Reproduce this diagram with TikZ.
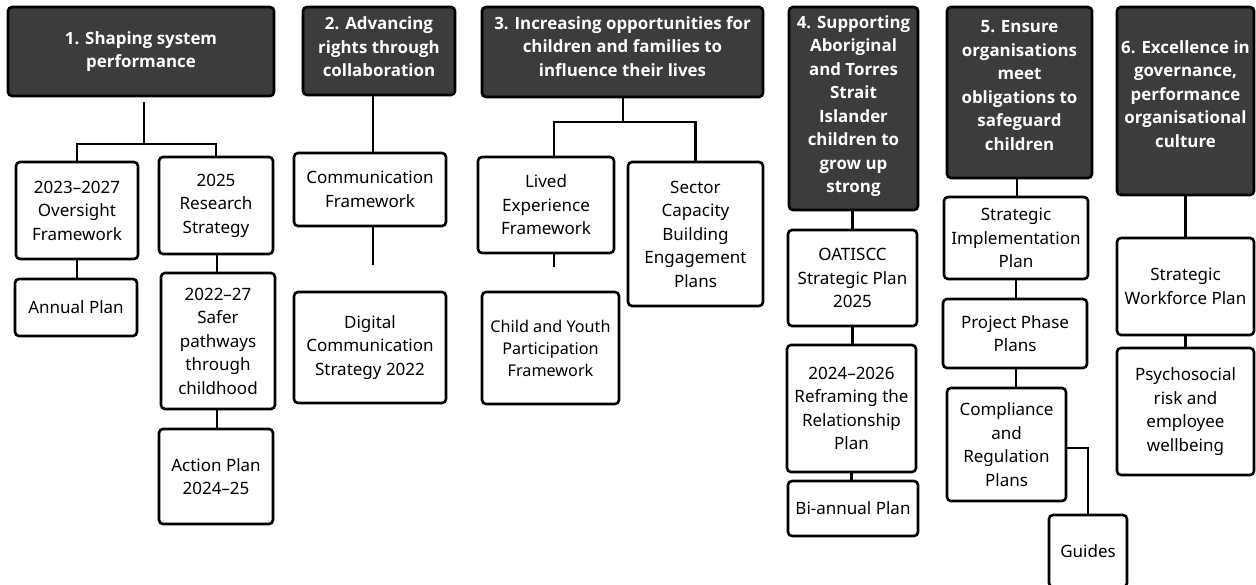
\documentclass[tikz,border=0pt]{standalone}
\usepackage{fontspec}
\setmainfont{Noto Sans}
\IfFontExistsTF{Open Sans Bold}
  {\newfontfamily\hdfont{Open Sans Bold}}
  {\newfontfamily\hdfont{Noto Sans}[AutoFakeBold=2.5]}
\definecolor{hdfill}{RGB}{60,60,60}
\begin{document}
\begin{tikzpicture}[x=1pt,y=-1pt,
  every node/.style={align=center, inner sep=0pt},
  conn/.style={line width=2.6pt},
  hd/.style={draw=black, fill=hdfill, rounded corners=4pt, line width=2.6pt},
  hdtxt/.style={text=white, font=\hdfont\fontsize{16.9}{23.5}\selectfont},
  bx/.style={draw=black, fill=white, rounded corners=4pt, line width=2.6pt,
    font=\fontsize{17}{23.5}\selectfont},
]
\useasboundingbox (0,0) rectangle (1256,584);
\fill[white] (0,0) rectangle (1256,584);
\clip (0,0) rectangle (1256,584);

% ---- headers ----
\node[hd, minimum width=266pt, minimum height=89pt,
  label={[hdtxt, yshift=0pt]center:{1. Shaping system\\performance}}] (h1) at (141,51.5) {};
\node[hd, minimum width=152pt, minimum height=88pt,
  label={[hdtxt, yshift=4pt]center:{2. Advancing\\rights through\\collaboration}}] (h2) at (379,51) {};
\node[hd, minimum width=281pt, minimum height=90pt,
  label={[hdtxt, yshift=5.5pt]center:{3. Increasing opportunities for\\children and families to\\influence their lives}}] (h3) at (622.5,52) {};
\node[hd, minimum width=129pt, minimum height=203pt,
  label={[hdtxt, yshift=2.5pt]center:{4. Supporting\\Aboriginal\\and Torres\\Strait\\Islander\\children to\\grow up\\strong}}] (h4) at (853.5,108.5) {};
\node[hd, minimum width=145pt, minimum height=171pt,
  label={[hdtxt, yshift=7pt]center:{5. Ensure\\organisations\\meet\\obligations to\\safeguard\\children}}] (h5) at (1019.5,92.5) {};
\node[hd, minimum width=137pt, minimum height=188pt,
  label={[hdtxt, yshift=7pt]center:{6. Excellence in\\governance,\\performance\\organisational\\culture}}] (h6) at (1185.5,101) {};

% ---- column 1 ----
\node[bx, minimum width=122pt, minimum height=97pt] (o1) at (77,210.5) {2023–2027\\Oversight\\Framework};
\node[bx, minimum width=122pt, minimum height=57pt] (ap) at (76,307.5) {Annual Plan};
\node[bx, minimum width=114pt, minimum height=97pt] (r1) at (216,205.5) {2025\\Research\\Strategy};
\node[bx, minimum width=114pt, minimum height=136pt] (sp) at (218,341) {2022–27\\Safer\\pathways\\through\\childhood};
\node[bx, minimum width=114pt, minimum height=95pt] (act) at (216,476.5) {Action Plan\\2024–25};

% ---- column 2 ----
\node[bx, minimum width=152pt, minimum height=73pt] (cf) at (370,189.5) {Communication\\Framework};
\node[bx, minimum width=152pt, minimum height=111pt] (dc) at (370,347.5) {Digital\\Communication\\Strategy 2022};

% ---- column 3 ----
\node[bx, minimum width=136pt, minimum height=96pt] (lv) at (546,205) {Lived\\Experience\\Framework};
\node[bx, minimum width=135pt, minimum height=144pt] (sc) at (695.5,234) {Sector\\Capacity\\Building\\Engagement\\Plans};
\node[bx, minimum width=137pt, minimum height=112pt, font=\fontsize{16.2}{22}\selectfont] (cy) at (550.5,348) {Child and Youth\\Participation\\Framework};

% ---- column 4 ----
\node[bx, minimum width=129pt, minimum height=96pt] (oa) at (852.5,278) {OATISCC\\Strategic Plan\\2025};
\node[bx, minimum width=129pt, minimum height=127pt] (rf) at (851.5,408.5) {2024–2026\\Reframing the\\Relationship\\Plan};
\node[bx, minimum width=130pt, minimum height=55pt] (bi) at (853,508.5) {Bi-annual Plan};

% ---- column 5 ----
\node[bx, minimum width=144pt, minimum height=82pt] (si) at (1016,238) {Strategic\\Implementation\\Plan};
\node[bx, minimum width=144pt, minimum height=69pt] (pp) at (1015,333.5) {Project Phase\\Plans};
\node[bx, minimum width=119pt, minimum height=113pt] (cp) at (1006.5,444.5) {Compliance\\and\\Regulation\\Plans};
\node[bx, minimum width=78pt, minimum height=72pt] (gd) at (1088,551) {Guides};

% ---- column 6 ----
\node[bx, minimum width=137pt, minimum height=97pt] (sw) at (1185.5,286.5) {Strategic\\Workforce Plan};
\node[bx, minimum width=137pt, minimum height=127pt] (ps) at (1185.5,411.5) {Psychosocial\\risk and\\employee\\wellbeing};

% ---- connectors ----
\coordinate (h1stub) at (144,102);
\coordinate (h1bar) at (144,144);
\draw[conn] (h1stub) -- (h1bar);
\draw[conn] (o1.north) |- (h1bar) -| (r1.north);
\draw[conn] (o1.south) -- (o1.south |- ap.north);
\draw[conn] ([xshift=1pt]r1.south) -- ([xshift=1pt]r1.south |- sp.north);
\draw[conn] ([xshift=-1pt]sp.south) -- ([xshift=-1pt]sp.south |- act.north);

\draw[conn] ([xshift=3pt]cf.north) -- ([xshift=3pt]cf.north |- h2.south);
\coordinate (cfend) at (373,265);
\draw[conn] (cfend |- cf.south) -- (cfend);

\coordinate (h3bar) at (623,122);
\draw[conn] (h3.south -| h3bar) -- (h3bar);
\draw[conn] ([xshift=8pt]lv.north) |- (h3bar) -| (sc.north);
\coordinate (lvend) at (554,267);
\draw[conn] (lvend |- lv.south) -- (lvend);

\draw[conn] ([xshift=-1pt]h4.south) -- ([xshift=-1pt]h4.south |- oa.north);
\draw[conn] (oa.south) -- (oa.south |- rf.north);
\draw[conn] (rf.south) -- (rf.south |- bi.north);

\draw[conn] ([xshift=-2.5pt]h5.south) -- ([xshift=-2.5pt]h5.south |- si.north);
\draw[conn] (si.south) -- (si.south |- pp.north);
\draw[conn] ([xshift=1pt]pp.south) -- ([xshift=1pt]pp.south |- cp.north);
\draw[conn] ([yshift=-3.5pt]cp.east) -| (gd.north);

\draw[conn] (h6.south) -- (sw.north);
\draw[conn] (sw.south) -- (ps.north);
\end{tikzpicture}
\end{document}
